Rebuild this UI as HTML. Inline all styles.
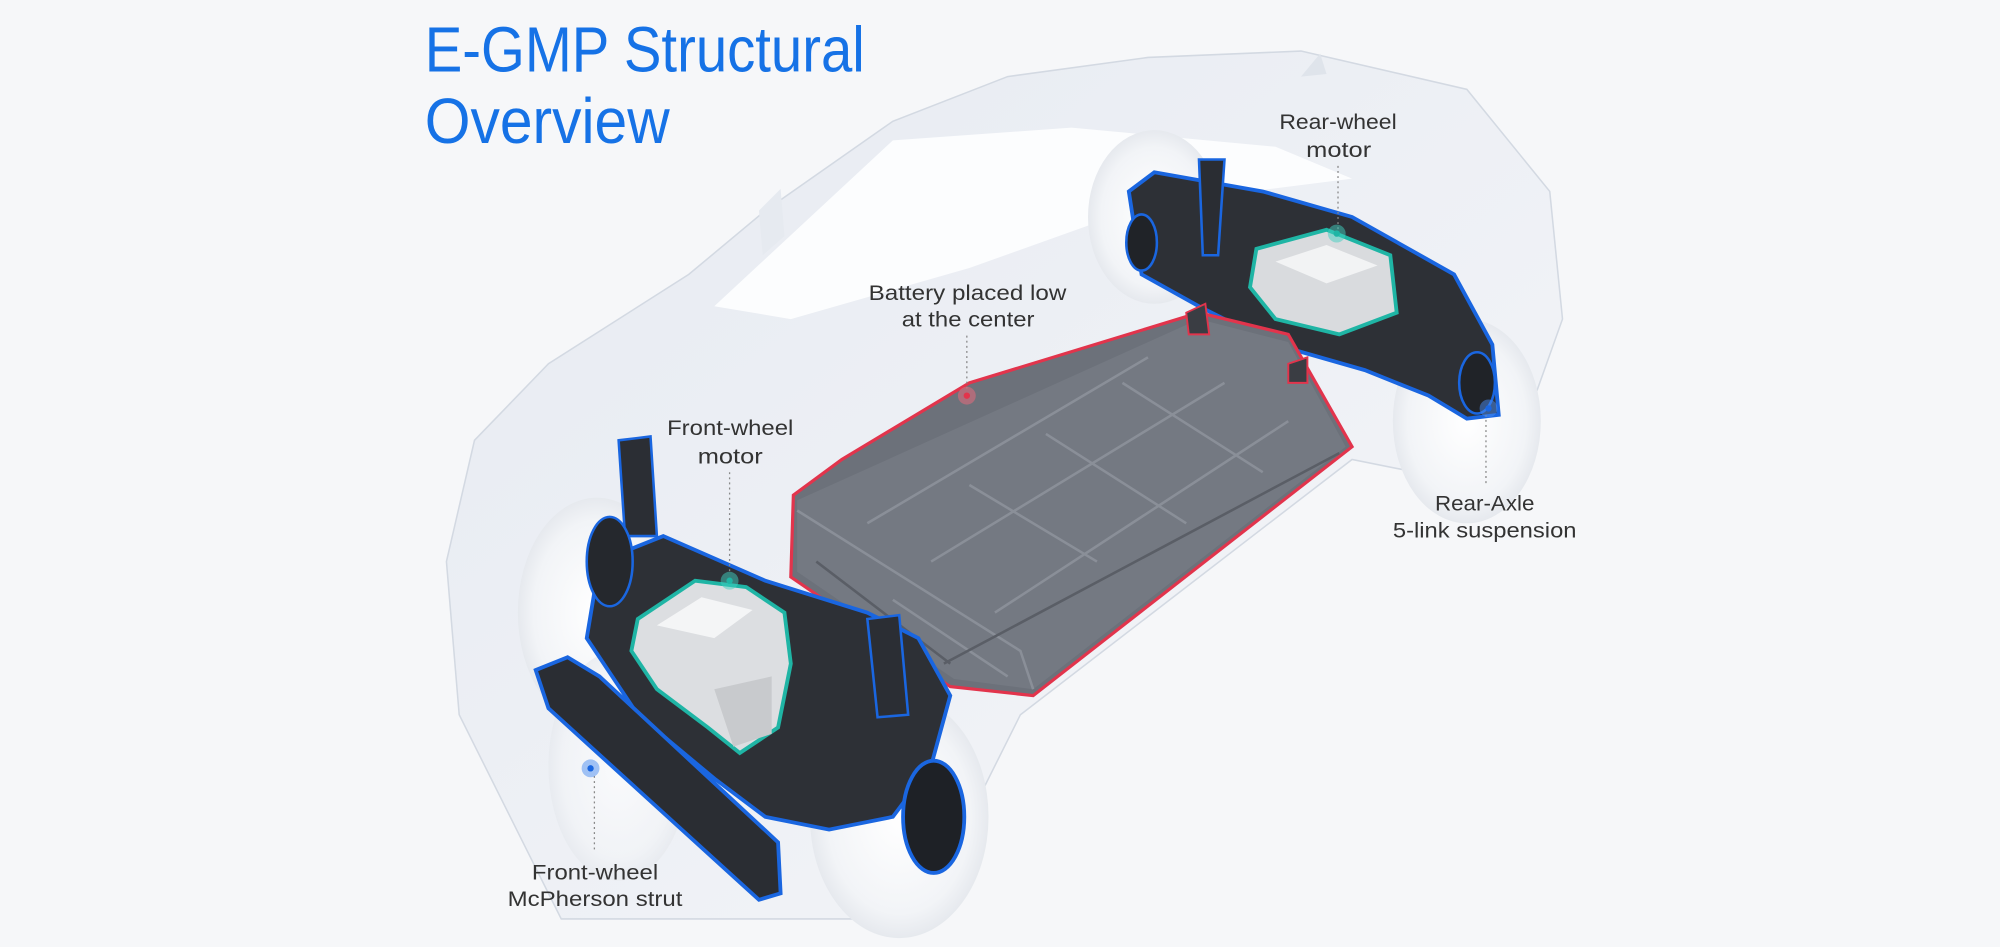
<!DOCTYPE html>
<html><head><meta charset="utf-8"><style>
html,body{margin:0;padding:0;background:#f6f7f9;}
svg{display:block}
text{font-family:"Liberation Sans",sans-serif;}
</style></head><body>
<svg width="2000" height="947" viewBox="0 0 1568 742" preserveAspectRatio="none" xmlns="http://www.w3.org/2000/svg">
<defs>
<linearGradient id="body" x1="0" y1="0" x2="1" y2="1">
<stop offset="0" stop-color="#e6eaf1"/><stop offset="1" stop-color="#f5f6f9"/></linearGradient>
<radialGradient id="wh" cx="0.5" cy="0.5" r="0.5"><stop offset="0" stop-color="#ffffff"/><stop offset="0.8" stop-color="#f2f4f7"/><stop offset="1" stop-color="#e6e9ee"/></radialGradient>
</defs>
<rect width="1568" height="742" fill="#f6f7f9"/>
<path d="M440,720 L360,560 L350,440 L372,345 L430,285 L540,215 L600,165 L700,95 L790,60 L900,45 L1020,40 L1150,70 L1215,150 L1225,250 L1200,320 L1160,380 L1060,360 L800,560 L720,720 Z" fill="url(#body)" stroke="#d3d9e2" stroke-width="1.2"/>
<path d="M560,240 L700,110 L840,100 L1000,115 L1060,140 L900,160 L760,210 L620,250 Z" fill="#fcfdfe"/>
<path d="M595,165 L612,148 L615,185 L598,200 Z" fill="#e6eaf0"/>
<path d="M1020,60 L1035,42 L1040,58 Z" fill="#dfe4eb"/>
<ellipse cx="468" cy="480" rx="62" ry="90" fill="url(#wh)"/>
<ellipse cx="705" cy="640" rx="70" ry="95" fill="url(#wh)"/>
<ellipse cx="905" cy="170" rx="52" ry="68" fill="url(#wh)"/>
<ellipse cx="1150" cy="330" rx="58" ry="80" fill="url(#wh)"/>
<ellipse cx="485" cy="600" rx="55" ry="90" fill="url(#wh)" opacity="0.7"/>
<path d="M885,150 L905,135 L990,150 L1060,170 L1140,215 L1170,270 L1175,325 L1150,328 L1120,310 L1070,290 L1000,270 L940,240 L895,215 Z" fill="#2d3036" stroke="#1a66e0" stroke-width="3"/>
<path d="M940,125 L960,125 L955,200 L943,200 Z" fill="#2a2d33" stroke="#1a66e0" stroke-width="2"/>
<ellipse cx="1158" cy="300" rx="14" ry="24" fill="#202328" stroke="#1a66e0" stroke-width="2"/>
<ellipse cx="895" cy="190" rx="12" ry="22" fill="#202328" stroke="#1a66e0" stroke-width="2"/>
<path d="M985,195 L1040,180 L1090,200 L1095,245 L1050,262 L1000,250 L980,225 Z" fill="#d9dbde" stroke="#1fb5a5" stroke-width="3"/>
<path d="M1000,205 L1040,192 L1080,208 L1040,222 Z" fill="#f2f3f4"/>
<path d="M622,388 L660,360 L760,300 L940,245 L1010,262 L1060,350 L810,545 L745,538 L620,452 Z" fill="#6c717a" stroke="#e2344c" stroke-width="2.5"/>
<path d="M625,392 L940,250 L1010,268 L1055,350 L810,540 L748,532 L625,448 Z" fill="#747982"/>
<path d="M730,440 L960,300 M780,480 L1010,330 M680,410 L900,280 M760,380 L860,440 M820,340 L930,410 M880,300 L990,370 M700,470 L790,530 M810,540 L800,510 L625,400" stroke="#8a8f98" stroke-width="2" fill="none"/>
<path d="M740,520 L1050,355 M640,440 L745,520" stroke="#5a5e66" stroke-width="2" fill="none"/>
<path d="M930,245 L945,238 L948,262 L932,262 Z M1010,285 L1025,280 L1025,300 L1010,300 Z" fill="#3a3d43" stroke="#e2344c" stroke-width="1.5"/>
<path d="M470,440 L520,420 L600,455 L680,480 L720,500 L745,545 L730,600 L700,640 L650,650 L600,640 L560,610 L500,560 L460,500 Z" fill="#2d3036" stroke="#1a66e0" stroke-width="3"/>
<path d="M420,525 L445,515 L470,530 L610,660 L612,700 L595,705 L430,555 Z" fill="#2a2d33" stroke="#1a66e0" stroke-width="3"/>
<path d="M485,345 L510,342 L515,420 L490,420 Z" fill="#2b2e34" stroke="#1a66e0" stroke-width="2"/>
<path d="M680,485 L705,482 L712,560 L688,562 Z" fill="#2b2e34" stroke="#1a66e0" stroke-width="2"/>
<ellipse cx="732" cy="640" rx="24" ry="44" fill="#1e2126" stroke="#1a66e0" stroke-width="3"/>
<ellipse cx="478" cy="440" rx="18" ry="35" fill="#25282d" stroke="#1a66e0" stroke-width="2"/>
<path d="M500,485 L545,455 L585,460 L615,480 L620,520 L610,570 L580,590 L555,570 L515,540 L495,510 Z" fill="#dcdee1" stroke="#1fb5a5" stroke-width="3"/>
<path d="M515,490 L550,468 L590,478 L560,500 Z" fill="#f4f5f6"/>
<path d="M560,540 L605,530 L605,575 L575,585 Z" fill="#c8cacd"/>
<g stroke="#888" stroke-width="1" stroke-dasharray="1.5,2.5" fill="none">
<path d="M758,263 V305"/><path d="M572,370 V450"/><path d="M1049,130 V180"/><path d="M1165,325 V380"/><path d="M466,608 V668"/>
</g>
<circle cx="758" cy="310" r="7" fill="#f26a7b" opacity="0.5"/><circle cx="758" cy="310" r="2.5" fill="#e2344c"/>
<circle cx="572" cy="455" r="7" fill="#3fd0c0" opacity="0.5"/><circle cx="572" cy="455" r="2.5" fill="#1fb5a5"/>
<circle cx="1048" cy="183" r="7" fill="#3fd0c0" opacity="0.5"/><circle cx="1048" cy="183" r="2.5" fill="#1fb5a5"/>
<circle cx="1167" cy="320" r="7" fill="#4a8cf0" opacity="0.5"/><circle cx="1167" cy="320" r="2.5" fill="#1a66e0"/>
<circle cx="463" cy="602" r="7" fill="#4a8cf0" opacity="0.5"/><circle cx="463" cy="602" r="2.5" fill="#1a66e0"/>
<g fill="#1672e6" font-size="50">
<text x="333" y="56" textLength="345" lengthAdjust="spacingAndGlyphs">E-GMP Structural</text>
<text x="333" y="112" textLength="192" lengthAdjust="spacingAndGlyphs">Overview</text>
</g>
<g fill="#333" font-size="17">
<text x="681" y="235" textLength="155" lengthAdjust="spacingAndGlyphs">Battery placed low</text>
<text x="707" y="256" textLength="104" lengthAdjust="spacingAndGlyphs">at the center</text>
<text x="523" y="341" textLength="99" lengthAdjust="spacingAndGlyphs">Front-wheel</text>
<text x="547" y="363" textLength="51" lengthAdjust="spacingAndGlyphs">motor</text>
<text x="1003" y="101" textLength="92" lengthAdjust="spacingAndGlyphs">Rear-wheel</text>
<text x="1024" y="123" textLength="51" lengthAdjust="spacingAndGlyphs">motor</text>
<text x="1125" y="400" textLength="78" lengthAdjust="spacingAndGlyphs">Rear-Axle</text>
<text x="1092" y="421" textLength="144" lengthAdjust="spacingAndGlyphs">5-link suspension</text>
<text x="417" y="689" textLength="99" lengthAdjust="spacingAndGlyphs">Front-wheel</text>
<text x="398" y="710" textLength="137" lengthAdjust="spacingAndGlyphs">McPherson strut</text>
</g>
</svg>
</body></html>
